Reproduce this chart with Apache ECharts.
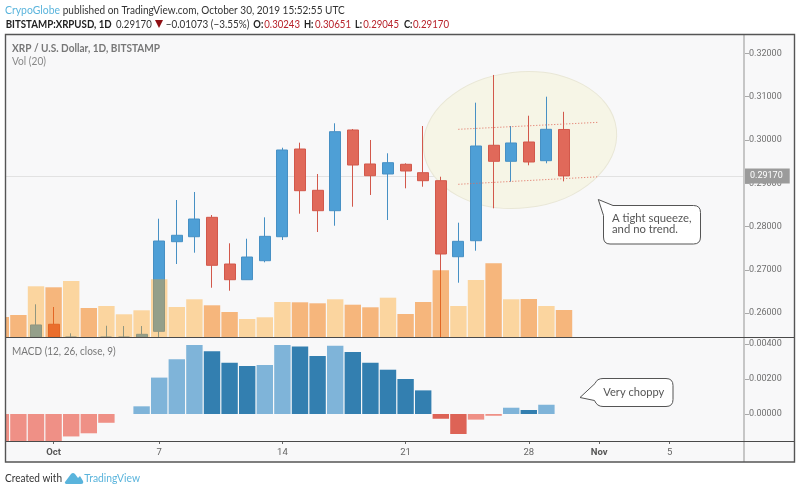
<!DOCTYPE html>
<html><head><meta charset="utf-8">
<style>html,body{margin:0;padding:0;background:#fff}#c{width:800px;height:492px}</style>
<script src="https://cdn.jsdelivr.net/npm/echarts@6/dist/echarts.min.js"></script>
</head><body><div id="c"></div>
<script>
const dates=['2019-09-28','2019-09-29','2019-09-30','2019-10-01','2019-10-02','2019-10-03','2019-10-04','2019-10-05','2019-10-06','2019-10-07','2019-10-08','2019-10-09','2019-10-10','2019-10-11','2019-10-12','2019-10-13','2019-10-14','2019-10-15','2019-10-16','2019-10-17','2019-10-18','2019-10-19','2019-10-20','2019-10-21','2019-10-22','2019-10-23','2019-10-24','2019-10-25','2019-10-26','2019-10-27','2019-10-28','2019-10-29','2019-10-30'];
const opens=[.2500,.2490,.25445,.25744,.25445,.2520,.25445,.25445,.25445,.25581,.27651,.27766,.28214,.27136,.26773,.27212,.27766,.29792,.28838,.28367,.30231,.29446,.29215,.29439,.29245,.2906,.27304,.27674,.29878,.29508,.29954,.29522,.30243];
const closes=[.2490,.2480,.25728,.25445,.25447,.2510,.25447,.25447,.25512,.27667,.27799,.28175,.27106,.26773,.27297,.27775,.29769,.28829,.28367,.30192,.29422,.29175,.29476,.29284,.2906,.27367,.2766,.29861,.29508,.29931,.29492,.30247,.2917];
const lows=[.2480,.2470,.25445,.25445,.25445,.2490,.25445,.25445,.25445,.25445,.27136,.27397,.26588,.26519,.2677,.27175,.2769,.28298,.27875,.2802,.28459,.2873,.28152,.28884,.28921,.25445,.26704,.27443,.28422,.29037,.29416,.29462,.29045];
const highs=[.2510,.2500,.26205,.26143,.25535,.2535,.2571,.25703,.25703,.28182,.28614,.28799,.28267,.27614,.2772,.28214,.29822,.29938,.29215,.30386,.30254,.30,.29693,.29462,.30323,.29152,.2809,.30862,.31502,.30323,.30561,.31,.30651];
const volumes=[20,22,50.7,49.7,56,29,31,22.7,26.7,57.7,30,37.7,31.7,25,18,19.7,35,34.7,33.7,37.7,32.3,29.7,39.3,23,35,66.7,31,57,73.7,37.7,38,31,27];
const macdHist=[-.0016,-.00159,-.00158,-.00156,-.00128,-.0011,-.0005,0,.00044,.00208,.00312,.00394,.00358,.00293,.00274,.0028,.00394,.00385,.00331,.0039,.00354,.00293,.00253,.002,.00135,-.00027,-.00114,-.00032,-.0001,.00036,.00023,.00053,null];
const priceTicks=[.26,.27,.28,.29,.30,.31,.32];
const macdTicks=[0,.002,.004];
const timeTickDates=['2019-10-01','2019-10-07','2019-10-14','2019-10-21','2019-10-28','2019-11-01','2019-11-05'];
const timeTickLabels=['{b|Oct}','7','14','21','28','{b|Nov}','5'];
const lastPrice=.2917;
const upperTrend=[['2019-10-24',.30247],['2019-11-01',.30409]];
const lowerTrend=[['2019-10-24',.28977],['2019-11-01',.29152]];

const T=s=>Date.parse(s+'T00:00:00Z');
const DAY=864e5, X0=T('2019-10-01'), PX=17.6, OCT1X=53.6, L=5, R=744;
const xMin=X0+(L-OCT1X)/PX*DAY, xMax=X0+(R-OCT1X)/PX*DAY;
const C={up:'#4e9fd6',upB:'#4790c4',dn:'#e0695a',dnB:'#d2584b',vUp:'rgba(255,160,25,.4)',vDn:'rgba(244,116,0,.5)',
  mUL:'#7fb4d9',mUD:'#337fb0',mDL:'#ef9086',mDD:'#dd6356'};
const xTickVals=timeTickDates.map(T);
const mapTick=v=>{const i=xTickVals.indexOf(+v);return i<0?'':timeTickLabels[i];};
const candle=dates.map((d,i)=>[T(d),opens[i],closes[i],lows[i],highs[i]]);
const vol=dates.map((d,i)=>({value:[T(d),volumes[i]],itemStyle:{color:closes[i]>=opens[i]?C.vUp:C.vDn}}));
const macd=dates.map((d,i)=>{const v=macdHist[i];if(v===null)return {value:[T(d),null]};const p=i?macdHist[i-1]:v-1;
  const col=v>=0?(v>p?C.mUL:C.mUD):(v>p?C.mDL:C.mDD);return {value:[T(d),v],itemStyle:{color:col}};});
const trendSeg=t=>[{coord:[T(t[0][0]),t[0][1]]},{coord:[T(t[1][0]),t[1][1]]}];

echarts.graphic.registerShape('calloutA',echarts.graphic.extendPath('M598.3 199.5 L613 205.5 H693.5 Q700.5 205.5 700.5 212.5 V237 Q700.5 244 693.5 244 H610 Q603.5 244 603.5 237 V215.5 Z'));
echarts.graphic.registerShape('calloutB',echarts.graphic.extendPath('M580 397.5 L595 383.5 Q597 378.5 603 378.5 H666 Q673 378.5 673 385.5 V399.5 Q673 406.5 666 406.5 H603 Q597 406.5 594.5 400.5 Z'));
echarts.graphic.registerShape('tvLogo',echarts.graphic.extendPath('M65 482 L71 474 Q73 472 75 474 L78 478 L80 476 L83 481 Q84 484 81 484 L68 484 Q64 484 65 482 Z'));

const UI='Lato,"Noto Sans",sans-serif';
const mctx=document.createElement('canvas').getContext('2d');
const txt=(text,x,y,font,fill,w)=>{mctx.font=font;const s=w/mctx.measureText(text).width;
  return {type:'text',z:20,x,y,scaleX:s,style:{text,x:0,y:0,font,fill,verticalAlign:'middle'}};};
const H='11px '+UI, HB='bold 11px '+UI;
const g=[
 {type:'rect',z:-2,shape:{x:5,y:34,width:790,height:428},style:{fill:'#f8f8f9'}},
 {type:'ellipse',z:0,x:520,y:140,rotation:.11,shape:{cx:0,cy:0,rx:97,ry:68},style:{fill:'#f6f5e6',stroke:'#e9e7d6',lineWidth:1}},
 {type:'rect',z:16,shape:{x:0,y:30,width:5,height:436},style:{fill:'#fff'}},
 {type:'line',z:15,shape:{x1:744,y1:34,x2:744,y2:462},style:{stroke:'#c6c6c6',lineWidth:2}},
 {type:'line',z:16,shape:{x1:5,y1:337.5,x2:795,y2:337.5},style:{stroke:'#4a4a4a',lineWidth:1}},
 {type:'line',z:16,shape:{x1:5,y1:441.5,x2:795,y2:441.5},style:{stroke:'#4a4a4a',lineWidth:1}},
 {type:'rect',z:17,shape:{x:5.5,y:34.5,width:789,height:427.5},style:{fill:'none',stroke:'#555',lineWidth:1.4}},
 {type:'calloutA',z:18,style:{fill:'#fff',stroke:'#555',lineWidth:1}},
 {type:'calloutB',z:18,style:{fill:'#fff',stroke:'#555',lineWidth:1}},
 txt('A tight squeeze,',612,218,'12px '+UI,'#555',79.5),
 txt('and no trend.',612,229.5,'12px '+UI,'#555',66),
 txt('Very choppy',603.3,392,'12px '+UI,'#555',61),
 txt('XRP / U.S. Dollar, 1D, BITSTAMP',12,48,HB,'#777',148),
 txt('Vol (20)',12,61,H,'#888',34),
 txt('MACD (12, 26, close, 9)',12,351,H,'#777',103.7),
 txt('CrypoGlobe',5,10,H,'#5ab4dc',55),
 txt('published on TradingView.com, October 30, 2019 15:52:55 UTC',62.7,10,H,'#333',282),
 txt('BITSTAMP:XRPUSD, 1D',5.7,24,HB,'#222',106),
 txt('0.29170',116,24,H,'#333',35.7),
 {type:'polygon',z:20,shape:{points:[[155,20],[163,20],[159,28]]},style:{fill:'#8f0f14'}},
 txt('\u22120.01073 (\u22123.55%)',165.7,24,H,'#333',83.6),
 txt('O:',253.3,24,HB,'#222',10),txt('0.30243',264.3,24,H,'#b8232b',35.7),
 txt('H:',304,24,HB,'#222',9.5),txt('0.30651',315,24,H,'#b8232b',36),
 txt('L:',355,24,HB,'#222',7),txt('0.29045',363.3,24,H,'#b8232b',35.7),
 txt('C:',404,24,HB,'#222',8.5),txt('0.29170',413,24,H,'#b8232b',36),
 txt('Created with',5,478,H,'#333',57),
 {type:'tvLogo',z:20,style:{fill:'#5ab4dc'}},
 txt('TradingView',84.3,478,H,'#5ab4dc',55.7)
];
const axisLbl={color:'#707070',fontFamily:'Roboto',fontSize:9,margin:5,padding:[2,0,0,0],formatter:v=>(+v).toFixed(5)};
const tick={show:true,length:5,lineStyle:{color:'#aaa'}};
const chart=echarts.init(document.getElementById('c'),null,{renderer:'canvas'});
chart.setOption({
 animation:false,backgroundColor:'#fff',
 grid:[{left:L,width:R-L,top:35,height:302},{left:L,width:R-L,top:338,height:103}],
 xAxis:[
  {type:'value',gridIndex:0,min:xMin,max:xMax,axisLine:{show:false,onZero:false},axisTick:{show:false},axisLabel:{show:false},splitLine:{show:false}},
  {type:'value',gridIndex:1,position:'bottom',min:xMin,max:xMax,axisLine:{show:false,onZero:false},splitLine:{show:false},
   axisTick:{show:true,length:3,lineStyle:{color:'#666'},customValues:xTickVals},
   axisLabel:{show:true,customValues:xTickVals,hideOverlap:false,margin:7,color:'#666',fontFamily:'Roboto',fontSize:9.5,formatter:mapTick,
    rich:{b:{fontWeight:'bold',color:'#555',fontFamily:'Roboto',fontSize:9.5}}}}
 ],
 yAxis:[
  {type:'value',gridIndex:0,position:'right',min:.2545,max:.32425,axisLine:{show:false,onZero:false},splitLine:{show:false},axisTick:{...tick,customValues:priceTicks},axisLabel:{...axisLbl,customValues:priceTicks}},
  {type:'value',gridIndex:0,position:'right',min:0,max:302,show:false,splitLine:{show:false}},
  {type:'value',gridIndex:1,position:'right',min:-.00154,max:.00434,axisLine:{show:false,onZero:false},splitLine:{show:false},axisTick:{...tick,customValues:macdTicks},axisLabel:{...axisLbl,customValues:macdTicks}}
 ],
 graphic:{elements:g},
 series:[
  {type:'line',name:'Last price',xAxisIndex:0,yAxisIndex:0,data:[],silent:true,
   markLine:{silent:true,symbol:'none',z:-1,precision:6,animation:false,label:{show:false},
    data:[{yAxis:lastPrice,lineStyle:{color:'#e2e2e2',width:1,type:'solid'}}]}},
  {type:'candlestick',name:'XRP / U.S. Dollar',xAxisIndex:0,yAxisIndex:0,z:2,barWidth:11.5,data:candle,
   encode:{x:0,y:[1,2,3,4]},
   itemStyle:{color:C.up,color0:C.dn,borderColor:C.upB,borderColor0:C.dnB,borderWidth:1},
   markLine:{silent:true,symbol:'none',z:5,precision:6,animation:false,
    data:[
     {yAxis:lastPrice,lineStyle:{color:'transparent'},label:{show:true,position:'end',distance:0,formatter:lastPrice.toFixed(5),color:'#fff',backgroundColor:'#9b9b9b',fontFamily:'Roboto',fontSize:9,padding:[3,7,3,6],align:'left'}},
     trendSeg(upperTrend).map(o=>({...o,lineStyle:{color:'#e0695a',width:1,type:[1,2]},label:{show:false}})),
     trendSeg(lowerTrend).map(o=>({...o,lineStyle:{color:'#e0695a',width:1,type:[1,2]},label:{show:false}}))
    ]}},
  {type:'bar',name:'Vol',xAxisIndex:0,yAxisIndex:1,z:3,barWidth:16.4,clip:true,data:vol},
  {type:'bar',name:'MACD',xAxisIndex:1,yAxisIndex:2,z:2,barWidth:16.4,clip:true,data:macd}
 ]
});
</script></body></html>
